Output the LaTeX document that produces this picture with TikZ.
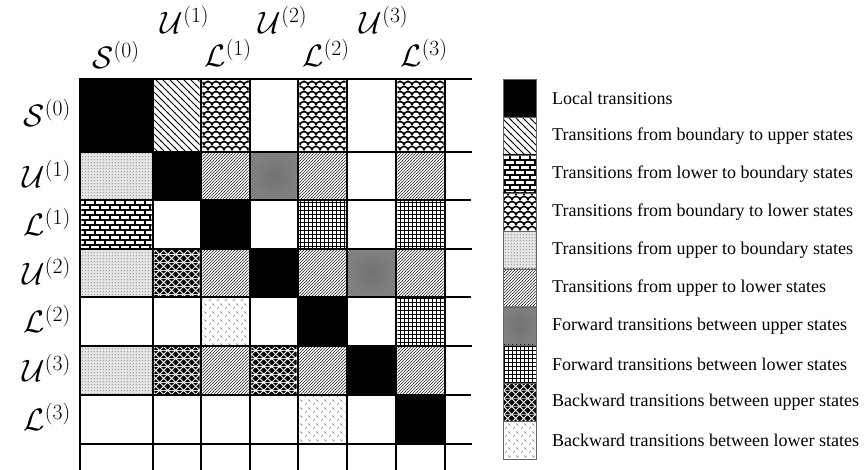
\RequirePackage{fix-cm}
\documentclass[tikz,border=0pt]{standalone}
\usepackage{fontspec}
\newfontfamily\legfont{Liberation Serif}
\usetikzlibrary{patterns}

\pgfdeclarepatternformonly{sparsenw}{\pgfqpoint{-1pt}{-1pt}}{\pgfqpoint{8pt}{8pt}}{\pgfqpoint{7pt}{7pt}}{%
  \pgfsetlinewidth{0.8pt}%
  \pgfpathmoveto{\pgfqpoint{-0.5pt}{7.5pt}}\pgfpathlineto{\pgfqpoint{7.5pt}{-0.5pt}}\pgfusepath{stroke}}
\pgfdeclarepatternformonly{densene}{\pgfqpoint{-1pt}{-1pt}}{\pgfqpoint{4pt}{4pt}}{\pgfqpoint{3pt}{3pt}}{%
  \pgfsetlinewidth{0.6pt}%
  \pgfpathmoveto{\pgfqpoint{-0.5pt}{-0.5pt}}\pgfpathlineto{\pgfqpoint{3.5pt}{3.5pt}}\pgfusepath{stroke}}
\pgfdeclarepatternformonly{scales}{\pgfqpoint{-1pt}{-1pt}}{\pgfqpoint{9pt}{11pt}}{\pgfqpoint{8pt}{10pt}}{%
  \pgfsetlinewidth{1.5pt}%
  \pgfpathmoveto{\pgfqpoint{0pt}{0pt}}\pgfpatharc{180}{0}{4pt and 3.5pt}%
  \pgfpathmoveto{\pgfqpoint{-4pt}{5pt}}\pgfpatharc{180}{0}{4pt and 3.5pt}%
  \pgfpathmoveto{\pgfqpoint{4pt}{5pt}}\pgfpatharc{180}{0}{4pt and 3.5pt}%
  \pgfusepath{stroke}}
\pgfdeclarepatternformonly{finedots}{\pgfqpoint{0pt}{0pt}}{\pgfqpoint{3pt}{3pt}}{\pgfqpoint{3pt}{3pt}}{%
  \pgfpathrectangle{\pgfqpoint{1pt}{1pt}}{\pgfqpoint{1pt}{1pt}}\pgfusepath{fill}}
\pgfdeclarepatternformonly{mybricks}{\pgfqpoint{-1pt}{-1pt}}{\pgfqpoint{11pt}{11pt}}{\pgfqpoint{10pt}{10pt}}{%
  \pgfsetlinewidth{1.1pt}%
  \pgfpathmoveto{\pgfqpoint{-1pt}{0pt}}\pgfpathlineto{\pgfqpoint{11pt}{0pt}}%
  \pgfpathmoveto{\pgfqpoint{-1pt}{5pt}}\pgfpathlineto{\pgfqpoint{11pt}{5pt}}%
  \pgfpathmoveto{\pgfqpoint{0pt}{0pt}}\pgfpathlineto{\pgfqpoint{0pt}{5pt}}%
  \pgfpathmoveto{\pgfqpoint{5pt}{5pt}}\pgfpathlineto{\pgfqpoint{5pt}{10pt}}%
  \pgfusepath{stroke}}
\pgfdeclarepatternformonly{densegrid}{\pgfqpoint{-1pt}{-1pt}}{\pgfqpoint{5pt}{5pt}}{\pgfqpoint{4pt}{4pt}}{%
  \pgfsetlinewidth{0.85pt}%
  \pgfpathmoveto{\pgfqpoint{0pt}{-1pt}}\pgfpathlineto{\pgfqpoint{0pt}{5pt}}%
  \pgfpathmoveto{\pgfqpoint{-1pt}{0pt}}\pgfpathlineto{\pgfqpoint{5pt}{0pt}}%
  \pgfusepath{stroke}}
\pgfdeclarepatterninherentlycolored{weave}{\pgfqpoint{0pt}{0pt}}{\pgfqpoint{8pt}{8pt}}{\pgfqpoint{8pt}{8pt}}{%
  \pgfsetfillcolor{black}%
  \pgfpathrectangle{\pgfqpoint{0pt}{0pt}}{\pgfqpoint{8pt}{8pt}}\pgfusepath{fill}%
  \pgfsetstrokecolor{white}\pgfsetlinewidth{1.1pt}%
  \pgfpathmoveto{\pgfqpoint{0pt}{0pt}}\pgfpathlineto{\pgfqpoint{8pt}{8pt}}%
  \pgfpathmoveto{\pgfqpoint{0pt}{8pt}}\pgfpathlineto{\pgfqpoint{8pt}{0pt}}%
  \pgfusepath{stroke}}
\pgfdeclarepatternformonly{dashes}{\pgfqpoint{0pt}{0pt}}{\pgfqpoint{8pt}{8pt}}{\pgfqpoint{8pt}{8pt}}{%
  \pgfsetlinewidth{0.7pt}%
  \pgfpathmoveto{\pgfqpoint{1pt}{1pt}}\pgfpathlineto{\pgfqpoint{3pt}{3pt}}%
  \pgfpathmoveto{\pgfqpoint{5pt}{7pt}}\pgfpathlineto{\pgfqpoint{7pt}{5pt}}%
  \pgfusepath{stroke}}

\tikzset{
  blk/.style={fill=black},
  nwl/.style={pattern=sparsenw},
  scl/.style={pattern=scales},
  dts/.style={fill=black!10, postaction={pattern=finedots, pattern color=black!70}},
  nel/.style={pattern=densene, pattern color=black!80},
  gry/.style={shade, inner color=black!55, outer color=black!50},
  brk/.style={pattern=mybricks},
  grd/.style={pattern=densegrid},
  wve/.style={pattern=weave},
  dsh/.style={pattern=dashes, pattern color=black!55},
  thickrule/.style={line width=2.6pt, line cap=rect},
  thinrule/.style={line width=1.3pt},
  lbl/.style={font=\fontsize{31}{36}\selectfont, inner sep=0pt},
  legbox/.style={draw=black!60, line width=0.8pt, minimum width=33pt, minimum height=38pt, inner sep=0pt, outer sep=0pt, anchor=north west},
  legtext/.style={font=\legfont\fontsize{18}{21}\selectfont, anchor=west, inner sep=0pt}
}

\begin{document}
\begin{tikzpicture}[x=1pt, y=-1pt]
\fill[white] (0,0) rectangle (865,470);
\useasboundingbox (0,0) rectangle (865,470);

% matrix cells
\foreach \c/\r/\s in {
  0/0/blk, 1/0/nwl, 2/0/scl, 4/0/scl, 6/0/scl,
  0/1/dts, 1/1/blk, 2/1/nel, 3/1/gry, 4/1/nel, 6/1/nel,
  0/2/brk, 2/2/blk, 4/2/grd, 6/2/grd,
  0/3/dts, 1/3/wve, 2/3/nel, 3/3/blk, 4/3/nel, 5/3/gry, 6/3/nel,
  2/4/dsh, 4/4/blk, 6/4/grd,
  0/5/dts, 1/5/wve, 2/5/nel, 3/5/wve, 4/5/nel, 5/5/blk, 6/5/nel,
  4/6/dsh, 6/6/blk}{
  \pgfmathsetmacro\xa{{80,153,201,250,298,347,396,445}[\c]+1.3}
  \pgfmathsetmacro\xb{{80,153,201,250,298,347,396,445}[\c+1]-1.3}
  \pgfmathsetmacro\ya{{79,152,200,249,297,346,395,444}[\r]+1.3}
  \pgfmathsetmacro\yb{{79,152,200,249,297,346,395,444}[\r+1]-1.3}
  \path[\s] (\xa,\ya) rectangle (\xb,\yb);
}

% grid rules
\foreach \y in {79,152,249,346,444} \draw[thickrule] (80,\y) -- (471,\y);
\foreach \y in {200,297,395} \draw[thinrule] (80,\y) -- (471,\y);
\foreach \x in {80,153,250,347,445} \draw[thickrule] (\x,79) -- (\x,472);
\foreach \x in {201,298,396} \draw[thinrule] (\x,79) -- (\x,472);

% column labels
\node[lbl] (cS0) at (116,55) {$\mathcal{S}^{(0)}$};
\node[lbl] (cU1) at (185,20) {$\mathcal{U}^{(1)}$};
\node[lbl] (cL1) at (228,53) {$\mathcal{L}^{(1)}$};
\node[lbl] (cU2) at (283,20) {$\mathcal{U}^{(2)}$};
\node[lbl] (cL2) at (326,53) {$\mathcal{L}^{(2)}$};
\node[lbl] (cU3) at (384,20) {$\mathcal{U}^{(3)}$};
\node[lbl] (cL3) at (424,53) {$\mathcal{L}^{(3)}$};

% row labels
\node[lbl, anchor=east] (rS0) at (71,113) {$\mathcal{S}^{(0)}$};
\node[lbl, anchor=east] (rU1) at (71,174) {$\mathcal{U}^{(1)}$};
\node[lbl, anchor=east] (rL1) at (71,222) {$\mathcal{L}^{(1)}$};
\node[lbl, anchor=east] (rU2) at (71,271) {$\mathcal{U}^{(2)}$};
\node[lbl, anchor=east] (rL2) at (71,319) {$\mathcal{L}^{(2)}$};
\node[lbl, anchor=east] (rU3) at (71,368) {$\mathcal{U}^{(3)}$};
\node[lbl, anchor=east] (rL3) at (71,417) {$\mathcal{L}^{(3)}$};

% legend
\foreach \i/\s/\t in {
  0/blk/Local transitions,
  1/nwl/Transitions from boundary to upper states,
  2/brk/Transitions from lower to boundary states,
  3/scl/Transitions from boundary to lower states,
  4/dts/Transitions from upper to boundary states,
  5/nel/Transitions from upper to lower states,
  6/gry/Forward transitions between upper states,
  7/grd/Forward transitions between lower states,
  8/wve/Backward transitions between upper states,
  9/dsh/Backward transitions between lower states}{
  \node[legbox, \s] (k\i) at (503,{79+38*\i}) {};
  \node[legtext] (t\i) at (552,{98+38*\i}) {\t};
}
\end{tikzpicture}
\end{document}
